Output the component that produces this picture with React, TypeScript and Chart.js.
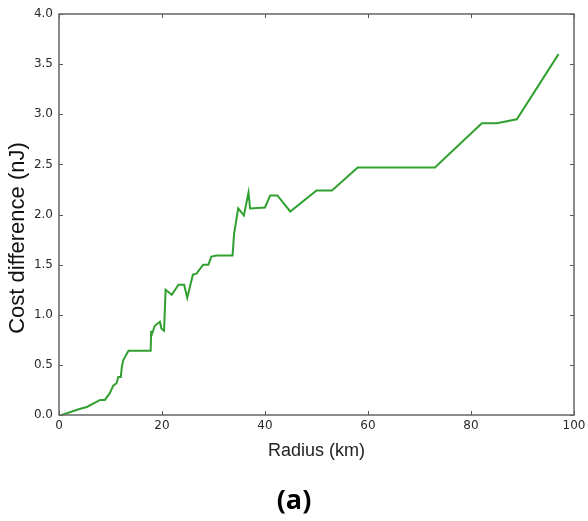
import React, { useEffect, useRef } from "react";
import { Chart, registerables } from "chart.js";

Chart.register(...registerables);

const radiusKm: number[] = [
  0.5, 4, 5.4, 8, 8.9, 9.9, 10.5, 11.2, 11.5, 12, 12.2, 12.5, 13.5, 17.8, 17.9, 18.0, 18.6,
  19.6, 19.9, 20.4, 20.7, 21.9, 23.2, 24.3, 24.9, 26, 26.7, 28, 29, 29.6, 30.6, 33.7, 34,
  34.8, 35.9, 36.8, 37.1, 40, 41, 42.4, 44.9, 50, 53, 58, 73, 82.1, 85, 88.9, 97,
];
const costDiff: number[] = [
  0, 0.06, 0.08, 0.15, 0.15, 0.22, 0.29, 0.32, 0.38, 0.38, 0.48, 0.55, 0.64, 0.64, 0.84, 0.8, 0.89,
  0.93, 0.86, 0.84, 1.25, 1.2, 1.3, 1.3, 1.17, 1.4, 1.41, 1.5, 1.5, 1.58, 1.59, 1.59, 1.81,
  2.06, 1.99, 2.22, 2.06, 2.07, 2.19, 2.19, 2.03, 2.24, 2.24, 2.47, 2.47, 2.91, 2.91, 2.95, 3.6,
];
const xTicks: number[] = [0, 20, 40, 60, 80, 100];
const yTicks: number[] = [0, 0.5, 1, 1.5, 2, 2.5, 3, 3.5, 4];
const yTitle = "Cost difference (nJ)";

const frameTicks = {
  id: "frameTicks",
  afterDraw(chart: any) {
    const { ctx, chartArea: a, scales } = chart;
    ctx.save();
    ctx.strokeStyle = "#555";
    ctx.lineWidth = 1;
    const L = 4;
    ctx.beginPath();
    xTicks.forEach((v) => {
      const px = Math.round(scales.x.getPixelForValue(v)) + 0.5;
      ctx.moveTo(px, a.bottom);
      ctx.lineTo(px, a.bottom - L);
      ctx.moveTo(px, a.top);
      ctx.lineTo(px, a.top + L);
    });
    yTicks.forEach((v) => {
      const py = Math.round(scales.y.getPixelForValue(v)) + 0.5;
      ctx.moveTo(a.left, py);
      ctx.lineTo(a.left + L, py);
      ctx.moveTo(a.right, py);
      ctx.lineTo(a.right - L, py);
    });
    ctx.stroke();
    ctx.lineWidth = 1.5;
    ctx.strokeStyle = "#666";
    ctx.strokeRect(a.left, a.top, a.right - a.left, a.bottom - a.top);
    // y-axis title
    ctx.translate(18, 238);
    ctx.rotate(-Math.PI / 2);
    ctx.font = "22px 'Liberation Sans', Arial, sans-serif";
    ctx.fillStyle = "#111";
    ctx.textAlign = "center";
    ctx.textBaseline = "middle";
    ctx.fillText(yTitle, 0, 0);
    ctx.restore();
  },
};

export default function App() {
  const ref = useRef<HTMLCanvasElement>(null);
  useEffect(() => {
    if (!ref.current) return;
    const data = radiusKm.map((x, i) => ({ x, y: costDiff[i] }));
    const chart = new Chart(ref.current, {
      type: "line",
      data: {
        datasets: [
          {
            data,
            borderColor: "#30a030",
            borderWidth: 2,
            pointRadius: 0,
            fill: false,
            tension: 0,
          },
        ],
      },
      options: {
        animation: false,
        responsive: false,
        maintainAspectRatio: false,
        layout: { padding: { left: 0, top: 14, right: 14, bottom: 56 } },
        plugins: { legend: { display: false }, tooltip: { enabled: false } },
        scales: {
          x: {
            type: "linear",
            min: 0,
            max: 100,
            afterBuildTicks: (s: any) => {
              s.ticks = xTicks.map((v) => ({ value: v }));
            },
            ticks: {
              font: { family: "DejaVu Sans", size: 12 },
              color: "#2a2a2a",
              padding: 4,
              maxRotation: 0,
              callback: (v: any) => String(v),
            },
            grid: { display: false, drawTicks: false },
            border: { display: false },
            title: {
              display: true,
              text: "Radius (km)",
              font: { family: "Liberation Sans", size: 18 },
              color: "#222",
              padding: { top: 0, bottom: 3 },
            },
            afterFit: (s: any) => {
              s.height = 50;
              s.paddingLeft = 0;
              s.paddingRight = 0;
            },
          },
          y: {
            type: "linear",
            min: 0,
            max: 4,
            afterBuildTicks: (s: any) => {
              s.ticks = yTicks.map((v) => ({ value: v }));
            },
            ticks: {
              font: { family: "DejaVu Sans", size: 12 },
              color: "#2a2a2a",
              padding: 6,
              callback: (v: any) => Number(v).toFixed(1),
            },
            grid: { display: false, drawTicks: false },
            border: { display: false },
            title: { display: false },
            afterFit: (s: any) => {
              s.width = 59;
              s.paddingTop = 0;
              s.paddingBottom = 0;
            },
          },
        },
      },
      plugins: [frameTicks],
    });
    return () => chart.destroy();
  }, []);
  return (
    <div style={{ position: "fixed", left: 0, top: 0, width: 588, height: 521, background: "#fff" }}>
      <canvas ref={ref} width={588} height={521} style={{ width: 588, height: 521, display: "block" }} />
      <div
        style={{
          position: "absolute",
          left: 0,
          top: 481,
          width: 588,
          textAlign: "center",
          fontFamily: "'Open Sans', sans-serif",
          fontWeight: 700,
          fontSize: 27,
          lineHeight: "36px",
          color: "#000",
        }}
      >
        (a)
      </div>
    </div>
  );
}
